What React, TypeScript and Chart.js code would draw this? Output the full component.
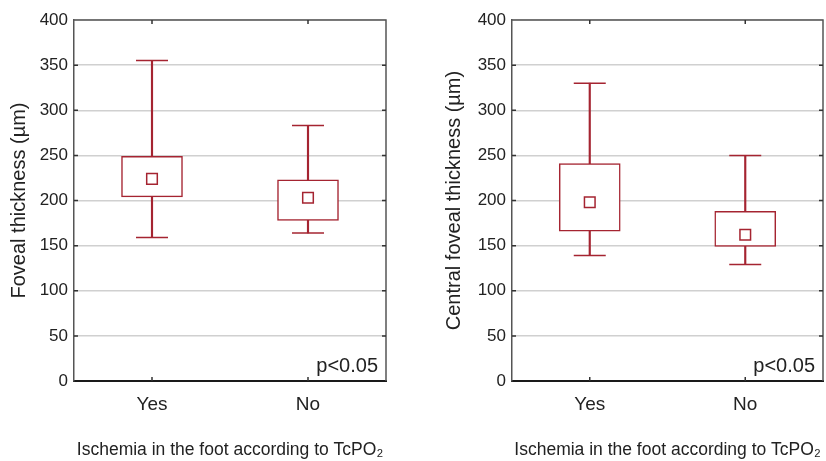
import React, { useEffect, useRef } from 'react';
import { Chart, registerables } from 'chart.js';

Chart.register(...registerables);
Chart.defaults.font.family = "'Liberation Sans', Arial, sans-serif";

// ---- data ----
const categories = ['Yes', 'No'];
const yTicks = [0, 50, 100, 150, 200, 250, 300, 350, 400];

const fovealHigh = [355, 283];
const fovealQ3 = [249, 223];
const fovealMean = [224, 203];
const fovealQ1 = [204, 178];
const fovealLow = [159, 164];

const centralHigh = [330, 250];
const centralQ3 = [241, 188];
const centralMean = [198, 162];
const centralQ1 = [166, 149];
const centralLow = [139, 129];

const yTitleLeft = 'Foveal thickness (µm)';
const yTitleRight = 'Central foveal thickness (µm)';
const xTitle = 'Ischemia in the foot according to TcPO₂';
const pValue = 'p<0.05';

const RED = '#a52431';
const TEXT = '#222';

const framePlugin = {
  id: 'frame',
  afterDraw(chart: any) {
    const { ctx, chartArea } = chart;
    const { left, right, top, bottom } = chartArea;
    ctx.save();
    ctx.strokeStyle = '#555';
    ctx.lineWidth = 1.5;
    ctx.beginPath();
    ctx.moveTo(left, top);
    ctx.lineTo(right, top);
    ctx.lineTo(right, bottom);
    ctx.stroke();
    // tick marks
    ctx.strokeStyle = '#333';
    ctx.lineWidth = 1.5;
    const ys = chart.scales.y;
    ys.ticks.forEach((t: any) => {
      if (t.value <= ys.min || t.value >= ys.max) return;
      const py = ys.getPixelForValue(t.value);
      ctx.beginPath();
      ctx.moveTo(left, py);
      ctx.lineTo(left + 4, py);
      ctx.moveTo(right - 4, py);
      ctx.lineTo(right, py);
      ctx.stroke();
    });
    const xs = chart.scales.x;
    categories.forEach((_, i) => {
      const px = xs.getPixelForValue(i);
      ctx.beginPath();
      ctx.moveTo(px, top);
      ctx.lineTo(px, top + 4);
      ctx.moveTo(px, bottom - 4);
      ctx.lineTo(px, bottom);
      ctx.stroke();
    });
    // p-value
    ctx.fillStyle = TEXT;
    ctx.font = "20px 'Liberation Sans', Arial, sans-serif";
    ctx.textAlign = 'right';
    ctx.textBaseline = 'middle';
    ctx.fillText(pValue, right - 8, bottom - 15);
    ctx.restore();
  },
};

type PanelProps = {
  high: number[];
  q3: number[];
  mean: number[];
  q1: number[];
  low: number[];
  yTitle: string;
  yWidth: number;
  yTitlePad: number;
  padRight: number;
  left: number;
};

function Panel(p: PanelProps) {
  const ref = useRef<HTMLCanvasElement>(null);
  useEffect(() => {
    if (!ref.current) return;
    const chart = new Chart(ref.current, {
      type: 'bar',
      data: {
        labels: categories,
        datasets: [
          {
            type: 'line',
            label: 'mean',
            data: p.mean,
            showLine: false,
            pointStyle: 'rect',
            pointRadius: 7.5,
            pointBorderWidth: 1.5,
            pointBorderColor: RED,
            pointBackgroundColor: '#fff',
            order: 0,
          } as any,
          {
            type: 'bar',
            label: 'box',
            data: p.q1.map((v, i) => [v, p.q3[i]]),
            backgroundColor: '#fff',
            borderColor: RED,
            borderWidth: 1.5,
            borderSkipped: false,
            barThickness: 61,
            grouped: false,
            order: 1,
          } as any,
          {
            type: 'line',
            label: 'capHigh',
            data: p.high,
            showLine: false,
            pointStyle: 'line',
            pointRadius: 16,
            pointBorderWidth: 1.5,
            pointBorderColor: RED,
            order: 2,
          } as any,
          {
            type: 'line',
            label: 'capLow',
            data: p.low,
            showLine: false,
            pointStyle: 'line',
            pointRadius: 16,
            pointBorderWidth: 1.5,
            pointBorderColor: RED,
            order: 2,
          } as any,
          {
            type: 'bar',
            label: 'whisker',
            data: p.low.map((v, i) => [v, p.high[i]]),
            backgroundColor: RED,
            borderWidth: 0,
            barThickness: 1.5,
            grouped: false,
            order: 3,
          } as any,
        ],
      },
      options: {
        responsive: false,
        maintainAspectRatio: false,
        animation: false,
        events: [],
        layout: {
          autoPadding: false,
          padding: { left: 0, right: p.padRight, top: 20, bottom: 0 },
        },
        plugins: { legend: { display: false }, tooltip: { enabled: false } },
        scales: {
          x: {
            type: 'category',
            offset: true,
            grid: { display: false, drawTicks: false },
            border: { display: true, color: '#1a1a1a', width: 2 },
            ticks: { font: { size: 19 }, color: TEXT, padding: 12 },
            title: {
              display: true,
              text: xTitle,
              font: { size: 17.5 },
              color: TEXT,
              padding: { top: 0, bottom: 0 },
            },
            afterFit: (s: any) => {
              s.height = 80;
              s.paddingLeft = 0;
              s.paddingRight = 0;
            },
          },
          y: {
            min: 0,
            max: 400,
            afterBuildTicks: (s: any) => {
              s.ticks = yTicks.map((v) => ({ value: v }));
            },
            grid: { color: '#d0d0d0', lineWidth: 1.5, drawTicks: false },
            border: { color: '#555', width: 1.5 },
            ticks: { font: { size: 17 }, color: TEXT, padding: 6 },
            title: {
              display: true,
              text: p.yTitle,
              font: { size: 20 },
              color: TEXT,
              padding: { top: p.yTitlePad, bottom: 0 },
            },
            afterFit: (s: any) => {
              s.width = p.yWidth;
            },
          },
        },
      } as any,
      plugins: [framePlugin],
    });
    return () => chart.destroy();
  }, []);
  return (
    <canvas
      ref={ref}
      width={413}
      height={461}
      style={{ position: 'absolute', left: p.left, top: 0, width: 413, height: 461 }}
    />
  );
}

export default function App() {
  return (
    <div style={{ position: 'absolute', left: 0, top: 0, width: 826, height: 461, background: '#fff' }}>
      <Panel
        high={fovealHigh}
        q3={fovealQ3}
        mean={fovealMean}
        q1={fovealQ1}
        low={fovealLow}
        yTitle={yTitleLeft}
        yWidth={74}
        yTitlePad={7}
        padRight={27}
        left={0}
      />
      <Panel
        high={centralHigh}
        q3={centralQ3}
        mean={centralMean}
        q1={centralQ1}
        low={centralLow}
        yTitle={yTitleRight}
        yWidth={99}
        yTitlePad={29}
        padRight={3}
        left={413}
      />
    </div>
  );
}
